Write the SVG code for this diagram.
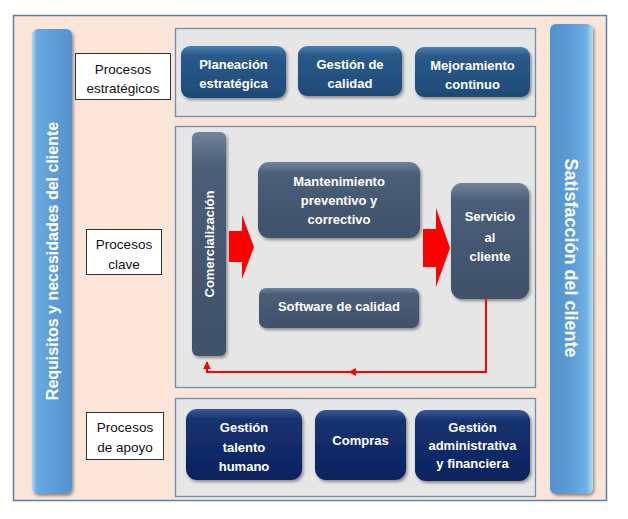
<svg xmlns="http://www.w3.org/2000/svg" width="628" height="519" viewBox="0 0 628 519">
<style>
.frame{fill:#FAE5D8;stroke:#5B80AE;stroke-width:1.5}
.panel{fill:#E6E6E6;stroke:#6E8DB3;stroke-width:1.3}
.lbl{fill:#FFFFFF;stroke:#333333;stroke-width:1}
.lt{font-family:"Liberation Sans",Arial,sans-serif;font-size:13.5px;fill:#111111;text-anchor:middle}
.nt{font-family:"Liberation Sans",Arial,sans-serif;font-size:13px;font-weight:bold;fill:#FFFFFF;text-anchor:middle}
.st{fill:url(#gStrat);filter:url(#sh)}
.ky{fill:url(#gKey);filter:url(#sh)}
.sp{fill:url(#gSup);filter:url(#sh)}
.hl{fill:none;stroke:#FFFFFF;stroke-opacity:0.25;stroke-width:1}
.red{fill:#FF0000}
.fb{fill:none;stroke:#FF0000;stroke-width:2}
</style>
<defs>
<filter id="sh" x="-20%" y="-20%" width="140%" height="150%">
<feDropShadow dx="1.5" dy="2" stdDeviation="1.5" flood-color="#000" flood-opacity="0.4"/>
</filter>
<linearGradient id="gStrat" x1="0" y1="0" x2="0" y2="1">
<stop offset="0" stop-color="#4F80B0"/><stop offset="0.18" stop-color="#2A5A8A"/><stop offset="1" stop-color="#1E4A77"/>
</linearGradient>
<linearGradient id="gKey" x1="0" y1="0" x2="0" y2="1">
<stop offset="0" stop-color="#72849C"/><stop offset="0.15" stop-color="#4B5E79"/><stop offset="1" stop-color="#3F516A"/>
</linearGradient>
<linearGradient id="gSup" x1="0" y1="0" x2="0" y2="1">
<stop offset="0" stop-color="#3A5898"/><stop offset="0.15" stop-color="#15326F"/><stop offset="1" stop-color="#0D2360"/>
</linearGradient>
<linearGradient id="gBarL" x1="0" y1="0" x2="1" y2="0">
<stop offset="0" stop-color="#A9DDF8"/><stop offset="0.12" stop-color="#6AAAE0"/><stop offset="0.6" stop-color="#5B9BD5"/><stop offset="1" stop-color="#5791CB"/>
</linearGradient>
<linearGradient id="gBarR" x1="0" y1="0" x2="1" y2="0">
<stop offset="0" stop-color="#5791CB"/><stop offset="0.45" stop-color="#5B9BD5"/><stop offset="0.85" stop-color="#70B0E3"/><stop offset="1" stop-color="#AAE2FA"/>
</linearGradient>
<marker id="ah" viewBox="0 0 10 10" refX="9" refY="5" markerWidth="4" markerHeight="4" orient="auto" markerUnits="strokeWidth">
<path d="M0,0 L10,5 L0,10 Z" fill="#FF0000"/>
</marker>
</defs>

<rect class="frame" x="13.5" y="15.5" width="593" height="485"/>

<g id="bar-left">
<rect x="32" y="29" width="40" height="465" rx="6" fill="url(#gBarL)" filter="url(#sh)"/>
<text transform="translate(58,261) rotate(-90)" font-family="'Liberation Sans',Arial,sans-serif" font-size="16" font-weight="bold" fill="#FFFFFF" text-anchor="middle">Requisitos y necesidades del cliente</text>
</g>
<g id="bar-right">
<rect x="550" y="24" width="43" height="470" rx="6" fill="url(#gBarR)" filter="url(#sh)"/>
<text transform="translate(565,258) rotate(90)" font-family="'Liberation Sans',Arial,sans-serif" font-size="18" font-weight="bold" fill="#FFFFFF" text-anchor="middle">Satisfacción del cliente</text>
</g>

<g id="panel-estrategicos"><rect class="panel" x="175.5" y="28.5" width="360" height="88"/></g>
<g id="panel-clave"><rect class="panel" x="175.5" y="126.5" width="360" height="261"/></g>
<g id="panel-apoyo"><rect class="panel" x="175.5" y="398.5" width="360" height="98"/></g>

<g id="lbl-estrategicos">
<rect class="lbl" x="75.5" y="53.5" width="95" height="46"/>
<text class="lt" x="123" y="73.5">Procesos</text>
<text class="lt" x="123" y="92.5">estratégicos</text>
</g>
<g id="lbl-clave">
<rect class="lbl" x="86.5" y="229.5" width="75" height="45"/>
<text class="lt" x="124" y="248.5">Procesos</text>
<text class="lt" x="124" y="268.5">clave</text>
</g>
<g id="lbl-apoyo">
<rect class="lbl" x="86.5" y="412.5" width="77" height="47"/>
<text class="lt" x="125" y="431.5">Procesos</text>
<text class="lt" x="125" y="451.5">de apoyo</text>
</g>

<g id="n-planeacion">
<rect class="st" x="181" y="46" width="105" height="52" rx="9"/>
<text class="nt" x="233.5" y="68.5">Planeación</text>
<text class="nt" x="233.5" y="87.5">estratégica</text>
</g>
<g id="n-gestion-calidad">
<rect class="st" x="298" y="46" width="104" height="50" rx="9"/>
<text class="nt" x="350" y="68.5">Gestión de</text>
<text class="nt" x="350" y="87.5">calidad</text>
</g>
<g id="n-mejoramiento">
<rect class="st" x="415" y="47" width="115" height="50" rx="9"/>
<text class="nt" x="472.5" y="69.5">Mejoramiento</text>
<text class="nt" x="472.5" y="88.5">continuo</text>
</g>

<g id="n-comercializacion">
<rect class="ky" x="192" y="132" width="34" height="224" rx="6"/>
<text transform="translate(213.5,244) rotate(-90)" class="nt" font-size="12.5">Comercialización</text>
</g>
<g id="n-mantenimiento">
<rect class="ky" x="258" y="162" width="162" height="76" rx="11"/>
<text class="nt" x="339" y="185.5">Mantenimiento</text>
<text class="nt" x="339" y="205">preventivo y</text>
<text class="nt" x="339" y="224">correctivo</text>
</g>
<g id="n-software">
<rect class="ky" x="259" y="288" width="160" height="40" rx="7"/>
<text class="nt" x="339" y="310.5">Software de calidad</text>
</g>
<g id="n-servicio">
<rect class="ky" x="451" y="183" width="78" height="116" rx="11"/>
<text class="nt" x="490" y="220.5">Servicio</text>
<text class="nt" x="490" y="241.5">al</text>
<text class="nt" x="490" y="260.5">cliente</text>
</g>

<g id="n-talento">
<rect class="sp" x="186" y="409" width="116" height="71" rx="11"/>
<text class="nt" x="244" y="431.5">Gestión</text>
<text class="nt" x="244" y="451.5">talento</text>
<text class="nt" x="244" y="470.5">humano</text>
</g>
<g id="n-compras">
<rect class="sp" x="315" y="410" width="91" height="70" rx="11"/>
<text class="nt" x="360.5" y="444.5">Compras</text>
</g>
<g id="n-administrativa">
<rect class="sp" x="415" y="410" width="115" height="71" rx="11"/>
<text class="nt" x="472.5" y="432" font-size="11.5">Gestión</text>
<text class="nt" x="472.5" y="450" font-size="11.5">administrativa</text>
<text class="nt" x="472.5" y="468" font-size="11.5">y financiera</text>
</g>

<g id="connectors">
<polygon class="red" points="229,231 242,231 242,215 254,247 242,279 242,262 229,262"/>
<polygon class="red" points="423,229 436,229 436,208 450,248 436,287 436,267 423,267"/>
<path class="fb" d="M486,299 V372 H349" marker-end="url(#ah)"/>
<path class="fb" d="M349,372 H207 V362" marker-end="url(#ah)"/>
</g>
</svg>
